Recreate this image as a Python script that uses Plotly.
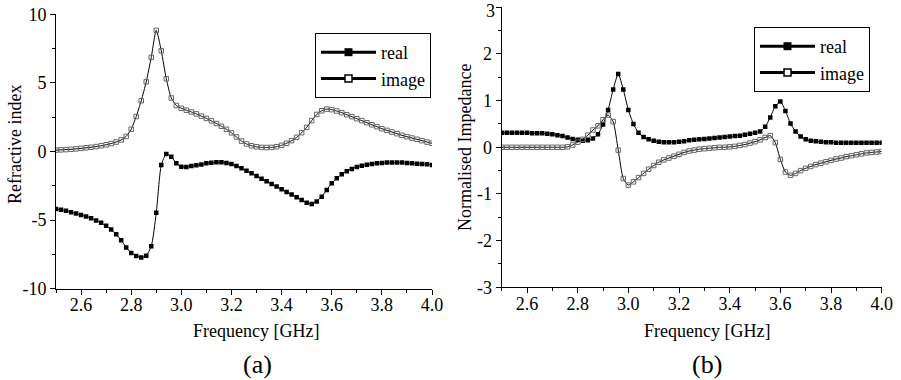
import plotly.graph_objects as go

# ---------------- data ----------------
freq = [2.50, 2.52, 2.54, 2.56, 2.58, 2.60, 2.62, 2.64, 2.66, 2.68,
        2.70, 2.72, 2.74, 2.76, 2.78, 2.80, 2.82, 2.84, 2.86, 2.88,
        2.90, 2.92, 2.94, 2.96, 2.98, 3.00, 3.02, 3.04, 3.06, 3.08,
        3.10, 3.12, 3.14, 3.16, 3.18, 3.20, 3.22, 3.24, 3.26, 3.28,
        3.30, 3.32, 3.34, 3.36, 3.38, 3.40, 3.42, 3.44, 3.46, 3.48,
        3.50, 3.52, 3.54, 3.56, 3.58, 3.60, 3.62, 3.64, 3.66, 3.68,
        3.70, 3.72, 3.74, 3.76, 3.78, 3.80, 3.82, 3.84, 3.86, 3.88,
        3.90, 3.92, 3.94, 3.96, 3.98, 4.00]

n_real = [-4.20, -4.25, -4.32, -4.42, -4.52, -4.62, -4.74, -4.86, -5.03, -5.20,
          -5.42, -5.69, -6.03, -6.47, -7.00, -7.39, -7.61, -7.73, -7.59, -6.91,
          -4.47, -0.99, -0.18, -0.38, -0.86, -1.11, -1.13, -1.06, -1.01, -0.94,
          -0.86, -0.82, -0.79, -0.79, -0.84, -0.92, -1.05, -1.22, -1.40, -1.59,
          -1.78, -1.98, -2.17, -2.37, -2.56, -2.75, -2.95, -3.14, -3.34, -3.53,
          -3.73, -3.82, -3.65, -3.29, -2.80, -2.32, -1.95, -1.66, -1.44, -1.27,
          -1.13, -1.03, -0.96, -0.91, -0.86, -0.84, -0.81, -0.81, -0.81, -0.81,
          -0.84, -0.86, -0.89, -0.91, -0.93, -0.98]

n_image = [0.10, 0.12, 0.14, 0.16, 0.19, 0.23, 0.27, 0.31, 0.36, 0.42,
           0.49, 0.58, 0.69, 0.84, 1.10, 1.62, 2.55, 3.70, 5.08, 6.86,
           8.83, 7.34, 5.30, 3.90, 3.35, 3.15, 3.01, 2.88, 2.74, 2.58,
           2.41, 2.23, 2.04, 1.84, 1.62, 1.36, 1.06, 0.76, 0.55, 0.42,
           0.34, 0.30, 0.29, 0.30, 0.35, 0.45, 0.60, 0.79, 1.03, 1.37,
           1.76, 2.25, 2.70, 2.97, 3.09, 3.05, 2.95, 2.83, 2.68, 2.54,
           2.39, 2.25, 2.10, 1.95, 1.81, 1.66, 1.54, 1.42, 1.30, 1.18,
           1.08, 0.98, 0.89, 0.79, 0.69, 0.60]

z_real = [0.31, 0.31, 0.31, 0.31, 0.31, 0.31, 0.30, 0.30, 0.30, 0.29,
          0.28, 0.26, 0.24, 0.21, 0.18, 0.16, 0.14, 0.15, 0.19, 0.28,
          0.49, 0.80, 1.24, 1.57, 1.24, 0.80, 0.50, 0.31, 0.22, 0.17,
          0.14, 0.12, 0.11, 0.11, 0.11, 0.12, 0.13, 0.15, 0.16, 0.17,
          0.18, 0.19, 0.20, 0.21, 0.22, 0.23, 0.24, 0.25, 0.27, 0.29,
          0.31, 0.34, 0.44, 0.64, 0.88, 0.98, 0.78, 0.51, 0.34, 0.23,
          0.17, 0.14, 0.13, 0.12, 0.11, 0.11, 0.10, 0.10, 0.10, 0.10,
          0.10, 0.10, 0.10, 0.10, 0.10, 0.10]

z_image = [0.00, 0.00, 0.00, 0.00, 0.00, 0.00, 0.00, 0.00, 0.00, 0.00,
           0.00, 0.00, 0.00, 0.01, 0.05, 0.11, 0.17, 0.26, 0.37, 0.46,
           0.59, 0.69, 0.55, -0.06, -0.67, -0.81, -0.74, -0.65, -0.56, -0.47,
           -0.39, -0.32, -0.27, -0.23, -0.19, -0.15, -0.11, -0.08, -0.06, -0.04,
           -0.03, -0.02, -0.01, 0.00, 0.00, 0.01, 0.02, 0.04, 0.06, 0.09,
           0.12, 0.16, 0.21, 0.25, 0.10, -0.26, -0.53, -0.60, -0.56, -0.50,
           -0.45, -0.41, -0.37, -0.34, -0.31, -0.28, -0.25, -0.23, -0.20, -0.18,
           -0.16, -0.14, -0.12, -0.11, -0.10, -0.09]

x_tickvals = [2.6, 2.8, 3.0, 3.2, 3.4, 3.6, 3.8, 4.0]
x_ticktext = ["2.6", "2.8", "3.0", "3.2", "3.4", "3.6", "3.8", "4.0"]
y1_tickvals = [-10, -5, 0, 5, 10]
y1_ticktext = ["-10", "-5", "0", "5", "10"]
y2_tickvals = [-3, -2, -1, 0, 1, 2, 3]
y2_ticktext = ["-3", "-2", "-1", "0", "1", "2", "3"]
series_names = ["real", "image"]

# ---------------- styling ----------------
FONT = "Liberation Serif"
W, H = 901, 380

fig = go.Figure()

real_marker = dict(symbol="square", size=4.5, color="black", line=dict(width=0))
image_marker = dict(symbol="square-open", size=4.5, color="#666666", line=dict(width=1))

def add_pair(xa, ya, yr, yi, legend):
    fig.add_trace(go.Scatter(x=freq, y=yr, mode="lines+markers", xaxis=xa, yaxis=ya,
                             line=dict(color="black", width=1, shape="spline", smoothing=0.6),
                             marker=real_marker, showlegend=False))
    fig.add_trace(go.Scatter(x=freq, y=yi, mode="lines+markers", xaxis=xa, yaxis=ya,
                             line=dict(color="black", width=1, shape="spline", smoothing=0.6),
                             marker=image_marker, showlegend=False))
    # legend entries (thick line samples as in the original)
    fig.add_trace(go.Scatter(x=[None], y=[None], mode="lines+markers", xaxis=xa, yaxis=ya,
                             name=series_names[0], legend=legend,
                             line=dict(color="black", width=3),
                             marker=dict(symbol="square", size=8, color="black")))
    fig.add_trace(go.Scatter(x=[None], y=[None], mode="lines+markers", xaxis=xa, yaxis=ya,
                             name=series_names[1], legend=legend,
                             line=dict(color="black", width=3),
                             marker=dict(symbol="square", size=7, color="white",
                                         line=dict(color="black", width=1.5))))

add_pair("x", "y", n_real, n_image, "legend")
add_pair("x2", "y2", z_real, z_image, "legend2")

axis_common = dict(showline=True, linecolor="black", linewidth=1, mirror=False,
                   showgrid=False, zeroline=False, ticks="outside", ticklen=5,
                   tickwidth=1, tickcolor="black", automargin=False,
                   ticklabeloverflow="allow",
                   tickfont=dict(family=FONT, size=18, color="black"))

xaxis_common = dict(axis_common, range=[2.5, 4.0], tickmode="array",
                    tickvals=x_tickvals, ticktext=x_ticktext, ticklabelstandoff=-5,
                    minor=dict(ticks="outside", ticklen=3, tickwidth=1, tickcolor="black",
                               tickmode="linear", tick0=2.5, dtick=0.1, showgrid=False))

# the top label of the right y axis sits at the page edge: draw it as a
# separate text kept just inside the page
y2_axis_text = y2_ticktext[:-1] + [""]

fig.update_layout(
    template="none",
    width=W, height=H,
    margin=dict(l=0, r=0, t=0, b=0, autoexpand=False),
    paper_bgcolor="white", plot_bgcolor="white",
    font=dict(family=FONT, size=18, color="black"),
    xaxis=dict(xaxis_common, domain=[56 / W, 432 / W], anchor="y"),
    yaxis=dict(axis_common, domain=[1 - 288.7 / H, 1 - 14.3 / H], anchor="x",
               range=[-10, 10], tickmode="array", tickvals=y1_tickvals, ticktext=y1_ticktext,
               minor=dict(ticks="outside", ticklen=3, tickwidth=1, tickcolor="black",
                          tickmode="linear", tick0=0, dtick=2.5, showgrid=False)),
    xaxis2=dict(xaxis_common, domain=[501.7 / W, 881.7 / W], anchor="y2"),
    yaxis2=dict(axis_common, domain=[1 - 287.3 / H, 1 - 7.3 / H], anchor="x2",
                range=[-3, 3], tickmode="array", tickvals=y2_tickvals, ticktext=y2_axis_text,
                minor=dict(ticks="outside", ticklen=3, tickwidth=1, tickcolor="black",
                           tickmode="linear", tick0=0, dtick=0.5, showgrid=False)),
    legend=dict(x=315 / W, y=1 - 33 / H, xanchor="left", yanchor="top",
                bgcolor="white", bordercolor="black", borderwidth=1,
                itemwidth=55, font=dict(family=FONT, size=18, color="black"),
                tracegroupgap=0),
    legend2=dict(x=754 / W, y=1 - 27 / H, xanchor="left", yanchor="top",
                 bgcolor="white", bordercolor="black", borderwidth=1,
                 itemwidth=55, font=dict(family=FONT, size=18, color="black"),
                 tracegroupgap=0),
)

ann_font = dict(family=FONT, size=18, color="black")
annotations = [
    dict(text="Frequency [GHz]", x=255.5 / W, y=1 - 331 / H),
    dict(text="Frequency [GHz]", x=707 / W, y=1 - 331 / H),
    dict(text="Refractive index", x=15 / W, y=1 - 145 / H, textangle=-90),
    dict(text="Normalised Impedance", x=465 / W, y=1 - 147 / H, textangle=-90),
]
for a in annotations:
    fig.add_annotation(xref="paper", yref="paper", xanchor="center", yanchor="middle",
                       showarrow=False, font=ann_font, **a)
fig.add_annotation(xref="paper", yref="paper", xanchor="right", yanchor="top",
                   x=496 / W, y=1.0, showarrow=False, text=y2_ticktext[-1],
                   font=ann_font, borderpad=0)
for txt, xc in [("(a)", 257 / W), ("(b)", 707 / W)]:
    fig.add_annotation(xref="paper", yref="paper", xanchor="center", yanchor="middle",
                       showarrow=False, text=txt, x=xc, y=1 - 364 / H,
                       font=dict(family=FONT, size=26, color="black"))

fig.write_html("out.html", config={"displayModeBar": False},
               post_script="document.body.style.margin='0';document.body.style.padding='0';")
